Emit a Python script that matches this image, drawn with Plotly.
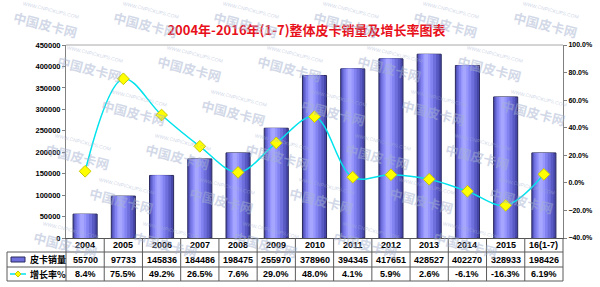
import plotly.graph_objects as go

years = ["2004", "2005", "2006", "2007", "2008", "2009", "2010", "2011",
         "2012", "2013", "2014", "2015", "16(1-7)"]
sales = [55700, 97733, 145836, 184486, 198475, 255970, 378960, 394345,
         417651, 428527, 402270, 328933, 198426]
growth = [8.4, 75.5, 49.2, 26.5, 7.6, 29.0, 48.0, 4.1, 5.9, 2.6, -6.1, -16.3, 6.19]
growth_labels = ["8.4%", "75.5%", "49.2%", "26.5%", "7.6%", "29.0%", "48.0%",
                 "4.1%", "5.9%", "2.6%", "-6.1%", "-16.3%", "6.19%"]
series_names = ["皮卡销量", "增长率%"]
title_text = "2004年-2016年(1-7)整体皮卡销量及增长率图表"

W, H = 600, 287
ML, MR, MT, MB = 66, 37, 45, 49
PW = W - ML - MR
PH = H - MT - MB


def px2x(px):
    return (px - ML) / PW


def py2y(py):
    return (H - MB - py) / PH


xs = list(range(len(years)))
fig = go.Figure()

# simulated cylinder gradient with overlaid bars
layers = [
    (0.63, 0.0, "#4646A8", dict(color="#2A2A5E", width=1)),
    (0.54, -0.02, "#5A5AC4", dict(width=0)),
    (0.44, -0.04, "#6E6EDC", dict(width=0)),
    (0.32, -0.06, "#8282F0", dict(width=0)),
    (0.20, -0.07, "#9696FC", dict(width=0)),
    (0.10, -0.08, "#A6A6FF", dict(width=0)),
]
for wdt, shift, col, ln in layers:
    fig.add_trace(go.Bar(
        x=xs, y=sales, width=wdt, offset=-wdt / 2 + shift,
        marker=dict(color=col, line=ln), showlegend=False,
        hoverinfo="skip" if wdt < 0.6 else None, name=series_names[0]))

fig.add_trace(go.Scatter(
    x=xs, y=growth, yaxis="y2", mode="lines+markers", name=series_names[1],
    line=dict(color="#00E3EC", width=1.5, shape="spline", smoothing=1.0),
    marker=dict(symbol="diamond", size=9, color="#FFFF00",
                line=dict(color="#C8C800", width=1)),
    showlegend=False))

shapes = []
ann = []
rows_py = [252, 267, 281]
# table horizontal lines
for py in rows_py:
    shapes.append(dict(type="line", xref="paper", yref="paper", layer="above",
                       x0=px2x(7), x1=1, y0=py2y(py), y1=py2y(py),
                       line=dict(color="#5A5A5A", width=1)))
# legend column left border
shapes.append(dict(type="line", xref="paper", yref="paper", layer="above",
                   x0=px2x(7), x1=px2x(7), y0=py2y(252), y1=py2y(281),
                   line=dict(color="#5A5A5A", width=1)))
# category boundaries
for i in range(len(years) + 1):
    xb = i / len(years)
    shapes.append(dict(type="line", xref="paper", yref="paper", layer="above",
                       x0=xb, x1=xb, y0=0, y1=py2y(281),
                       line=dict(color="#5A5A5A", width=1)))
# top border
shapes.append(dict(type="line", xref="paper", yref="paper", x0=0, x1=1, y0=1, y1=1,
                   line=dict(color="#A8A8A8", width=1)))

# legend icons
shapes.append(dict(type="rect", xref="paper", yref="paper", x0=px2x(11), x1=px2x(25),
                   y0=py2y(262), y1=py2y(257), fillcolor="#6E6EDC",
                   line=dict(color="#2A2A5E", width=1)))
shapes.append(dict(type="line", xref="paper", yref="paper", x0=px2x(10), x1=px2x(26),
                   y0=py2y(274), y1=py2y(274), line=dict(color="#00E3EC", width=1.5)))
shapes.append(dict(type="path", xref="paper", yref="paper",
                   path="M {a},{b} L {c},{d} L {a},{e} L {f},{d} Z".format(
                       a=px2x(18), b=py2y(271), c=px2x(21), d=py2y(274),
                       e=py2y(277), f=px2x(15)),
                   fillcolor="#FFFF00", line=dict(color="#C8C800", width=1)))

tfont = dict(family="Liberation Sans, Arial", size=9, color="#000000", weight="bold")
for i in xs:
    for row_py, txt in ((245.5, years[i]), (259.5, str(sales[i])), (274, growth_labels[i])):
        ann.append(dict(x=i, y=py2y(row_py), xref="x", yref="paper", text=txt,
                        xanchor="center", yanchor="middle", showarrow=False, font=tfont))
cfont = dict(family="Noto Sans CJK SC", size=9, color="#000000", weight="bold")
ann.append(dict(x=px2x(28), y=py2y(259.5), xref="paper", yref="paper", xanchor="left",
                yanchor="middle", text=series_names[0], showarrow=False, font=cfont))
ann.append(dict(x=px2x(28), y=py2y(274), xref="paper", yref="paper", xanchor="left",
                yanchor="middle", text=series_names[1], showarrow=False, font=cfont))

# watermark (kept fully inside the page)
wm_font = dict(family="Noto Sans CJK SC", size=13, color="rgba(165,178,208,0.5)",
               weight="bold")
wm_small = dict(family="Liberation Sans", size=5, color="rgba(165,178,208,0.55)")
for r in range(6):
    for c in range(7):
        cx = 45 + c * 100 + (r % 2) * 50 - r * 6
        cy = 24 + r * 44
        if cx < 40 or cx > 560:
            continue
        ann.append(dict(x=px2x(cx), y=py2y(cy), xref="paper", yref="paper",
                        xanchor="center", yanchor="middle",
                        text="中国皮卡网", showarrow=False, textangle=14,
                        font=wm_font))
        ann.append(dict(x=px2x(cx + 6), y=py2y(cy - 14), xref="paper", yref="paper",
                        xanchor="center", yanchor="middle",
                        text="WWW.CNPICKUPS.COM", showarrow=False, textangle=14,
                        font=wm_small))

fig.update_layout(
    width=W, height=H,
    margin=dict(l=ML, r=MR, t=MT, b=MB, autoexpand=False),
    paper_bgcolor="white", plot_bgcolor="rgba(0,0,0,0)",
    barmode="overlay",
    title=dict(text=title_text, x=306.5 / W, xanchor="center", y=1 - 30.5 / H,
               yanchor="middle",
               font=dict(family="Noto Sans CJK SC", size=13, color="#E8101A",
                         weight="bold")),
    xaxis=dict(range=[-0.5, len(years) - 0.5], showticklabels=False, ticks="",
               showgrid=False, zeroline=False, showline=True, linecolor="#555555",
               linewidth=1, automargin=False),
    yaxis=dict(range=[0, 450000], dtick=50000, showgrid=False, zeroline=False,
               showline=True, linecolor="#808080", ticks="outside", ticklen=3,
               tickcolor="#808080", tickformat="d", automargin=False,
               tickfont=dict(family="Liberation Sans, Arial", size=7.5, color="#000",
                             weight="bold")),
    yaxis2=dict(range=[-40, 100], dtick=20, overlaying="y", side="right",
                showgrid=False, zeroline=False, showline=True, linecolor="#808080",
                ticks="outside", ticklen=3, tickcolor="#808080", automargin=False,
                tickformat=".1f", ticksuffix="%",
                tickfont=dict(family="Liberation Sans, Arial", size=7, color="#000",
                              weight="bold")),
    shapes=shapes, annotations=ann, showlegend=False,
)

fig.write_html("out.html")
